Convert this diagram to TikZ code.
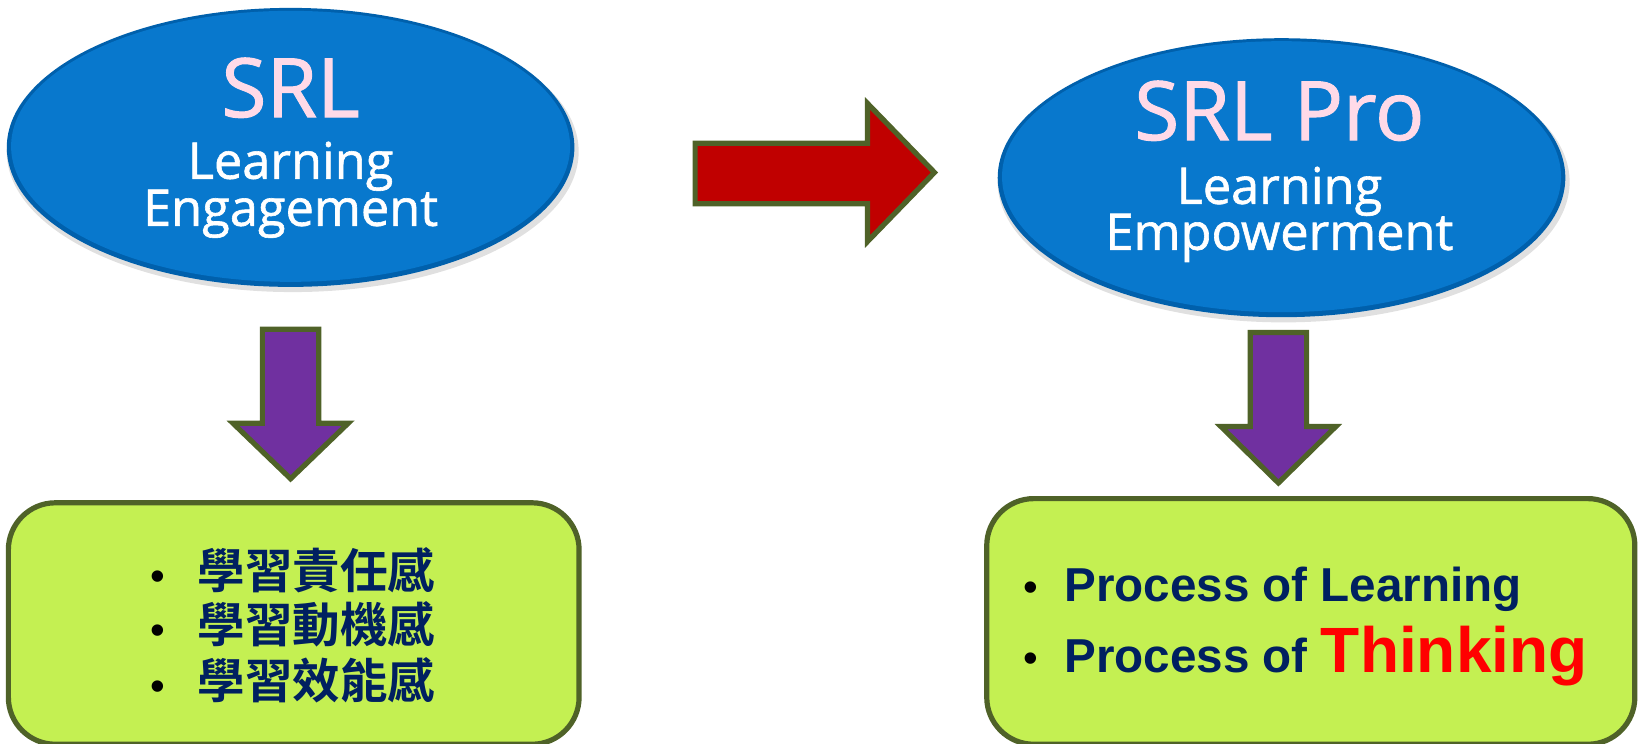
\documentclass[tikz,border=0pt]{standalone}
\usepackage{fontspec}
\setmainfont{Open Sans}[FakeBold=1.2]
\newfontfamily\arialb{Liberation Sans}[BoldFont={Liberation Sans Bold}]
\newfontfamily\cjkb{Noto Sans CJK TC}[BoldFont={Noto Sans CJK TC Bold}]
\usetikzlibrary{shapes.geometric}
\definecolor{olive}{RGB}{79,98,40}
\definecolor{ovalblue}{RGB}{8,120,205}
\definecolor{ovaledge}{RGB}{0,96,172}
\definecolor{pinktxt}{RGB}{255,218,232}
\definecolor{boxgreen}{RGB}{196,240,82}
\definecolor{navy}{RGB}{0,32,96}
\definecolor{darkred}{RGB}{192,0,0}
\definecolor{purp}{RGB}{112,48,160}
\tikzset{
  ovalshape/.style={ellipse, fill=ovaledge, inner sep=0pt, minimum width=567.6pt, minimum height=279pt},
  ovalinner/.style={ellipse, fill=ovalblue, inner sep=0pt, minimum width=559pt, minimum height=271pt},
  ovalshadow/.style={ellipse, fill=black, opacity=0.12, inner sep=0pt, minimum width=572pt, minimum height=281pt},
  bigtxt/.style={anchor=base, text=pinktxt, font=\fontsize{82}{84}\selectfont, inner sep=0pt},
  subtxt/.style={anchor=base, text=white, font=\fontsize{50.5}{52}\selectfont, inner sep=0pt},
  blockarrow/.style={draw=olive, line width=5.2pt, line join=miter},
  greenbox/.style={draw=olive, line width=5.2pt, fill=boxgreen, rounded corners=47pt},
  cjkline/.style={anchor=base west, text=navy, font=\cjkb\bfseries\fontsize{47.5}{50}\selectfont, inner sep=0pt},
  enline/.style={anchor=base west, text=navy, font=\arialb\bfseries\fontsize{47.6}{50}\selectfont, inner sep=0pt},
  bul/.style={anchor=base, text=black, font=\arialb\fontsize{42}{42}\selectfont, inner sep=0pt}
}
\begin{document}
\begin{tikzpicture}[x=1.0453pt,y=-1.0453pt]
\useasboundingbox (0,0) rectangle (1568,711.75);
% left oval
\node[ovalshadow] (shL) at (280,145) {};
\node[ovalshape] (ovL) at (278,141) {};
\node[ovalinner] (ovLi) at (278,140) {};
\node[bigtxt] (srl) at (278,112) {SRL};
\node[subtxt] (le1) at (278,171) {Learning};
\node[subtxt] (le2) at (278,216) {Engagement};
% right oval
\node[ovalshadow] (shR) at (1228,174) {};
\node[ovalshape] (ovR) at (1226,170) {};
\node[ovalinner] (ovRi) at (1226,169) {};
\node[bigtxt] (srlpro) at (1224,134) {SRL Pro};
\node[subtxt] (re1) at (1224,195) {Learning};
\node[subtxt] (re2) at (1224,239) {Empowerment};
% red arrow
\draw[blockarrow, fill=darkred] (665,137) -- (830,137) -- (830,99) -- (894,165) -- (830,231) -- (830,195) -- (665,195) -- cycle;
% purple down arrows
\draw[blockarrow, fill=purp] (251,315) -- (305,315) -- (305,405) -- (333,405) -- (278,458) -- (223,405) -- (251,405) -- cycle;
\draw[blockarrow, fill=purp] (1196,318) -- (1250,318) -- (1250,408) -- (1278,408) -- (1223,462) -- (1168,408) -- (1196,408) -- cycle;
% boxes
\draw[greenbox] (8,481) rectangle (554,712);
\draw[greenbox] (944,477) rectangle (1564,712);
% left box text
\node[bul] (b1) at (151,565) {•};
\node[bul] (b2) at (151,617) {•};
\node[bul] (b3) at (151,670) {•};
\node[cjkline] (c1) at (189,563) {學習責任感};
\node[cjkline] (c2) at (189,615) {學習動機感};
\node[cjkline] (c3) at (189,668) {學習效能感};
% right box text
\node[bul] (b4) at (986,575) {•};
\node[bul] (b5) at (986,643) {•};
\node[enline] (p1) at (1018,575) {Process of Learning};
\node[enline] (p2) at (1018,643) {Process of \textcolor{red}{\fontsize{64}{66}\selectfont Thinking}};
\end{tikzpicture}
\end{document}
